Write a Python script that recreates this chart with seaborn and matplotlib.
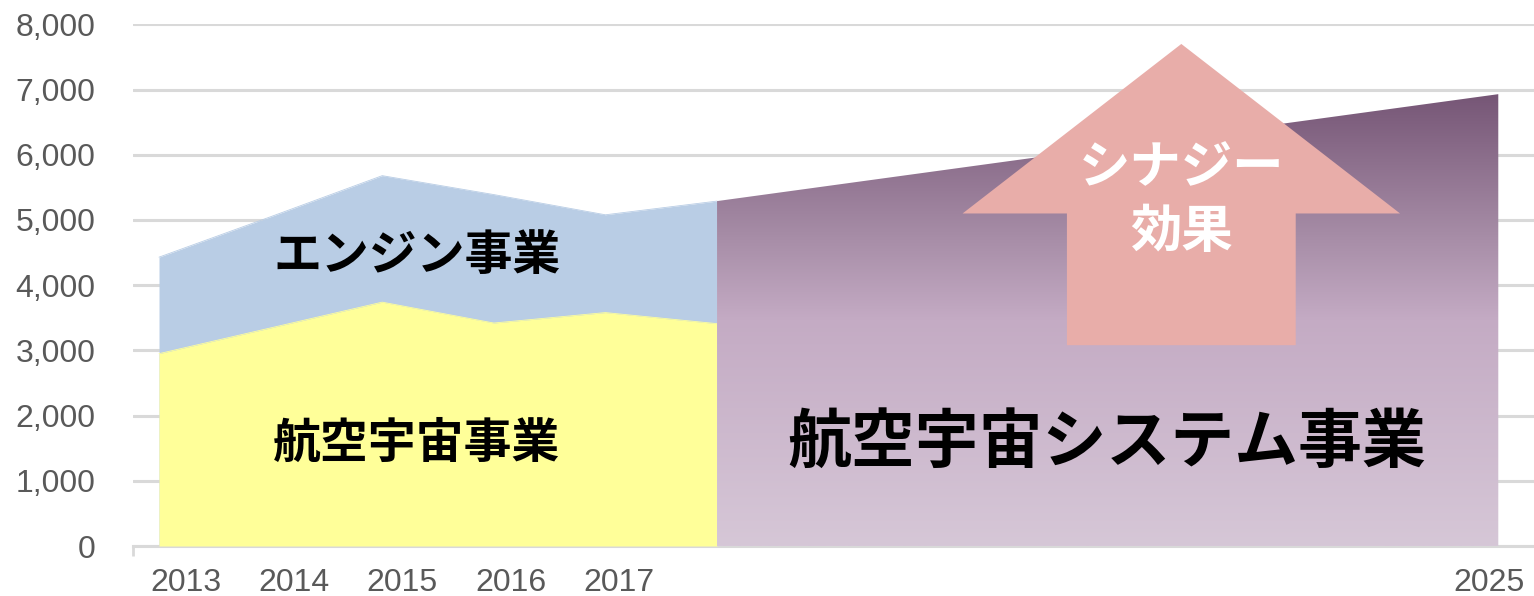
import numpy as np
import matplotlib
matplotlib.use("Agg")
import matplotlib.pyplot as plt
import matplotlib.patches as mpatches
from matplotlib.colors import LinearSegmentedColormap
import seaborn as sns

# -----------------------------
# datos
# -----------------------------
years_hist = [2013, 2014, 2015, 2016, 2017, 2018]
aero_space = [2950, 3345, 3740, 3420, 3580, 3410]      # 航空宇宙事業
engine = [1480, 1705, 1940, 1970, 1500, 1880]          # エンジン事業 (apilado)
years_future = [2018, 2025]
aero_system = [5290, 6930]                             # 航空宇宙システム事業

tick_labels = ["2013", "2014", "2015", "2016", "2017", "2025"]
y_ticks = [0, 1000, 2000, 3000, 4000, 5000, 6000, 7000, 8000]

# posiciones de etiquetas (layout)
tick_pos = [2013.24, 2014.21, 2015.18, 2016.15, 2017.12, 2024.92]

sns.set_theme(style="white")
plt.rcParams['font.family'] = ['Liberation Sans', 'Noto Sans CJK JP', 'DejaVu Sans']

fig = plt.figure(figsize=(15.34, 5.96), dpi=100)
ax = fig.add_axes([133/1534, 50/596, 1401/1534, 521.6/596])

df_top = np.array(aero_space) + np.array(engine)

# areas historicas
ax.fill_between(years_hist, 0, df_top, color="#B9CDE5", lw=0, zorder=2)
ax.fill_between(years_hist, 0, aero_space, color="#FFFF99", lw=0, zorder=3)
sns.lineplot(x=years_hist, y=df_top, color="#B9CDE5", lw=0.6, ax=ax, zorder=2)
sns.lineplot(x=years_hist, y=aero_space, color="#FFFF99", lw=0.6, ax=ax, zorder=3)

# area futura con degradado
poly = ax.fill_between(years_future, 0, aero_system, facecolor="none", lw=0, zorder=3)
cmap = LinearSegmentedColormap.from_list(
    "grad", [(0.0, "#D6C7D7"), (0.5, "#C4ABC4"), (0.69, "#A68CA6"), (1.0, "#765676")])
grad = np.linspace(0, 1, 256).reshape(-1, 1)
img = ax.imshow(grad, cmap=cmap, origin="lower", aspect="auto",
                extent=[years_future[0], years_future[1], 0, max(aero_system)], zorder=3)
img.set_clip_path(poly.get_paths()[0], transform=ax.transData)

# flecha sinergia
arrow = mpatches.FancyArrow(2022.16, 3080, 0, 4620, width=2.05, head_width=3.92,
                            head_length=2600, length_includes_head=True,
                            color="#E8ADA9", lw=0, zorder=4)
ax.add_patch(arrow)
ax.text(2022.16, 5800, "シナジー", ha="center", va="center", color="white",
        fontsize=37, fontweight="bold", family=['Noto Sans CJK JP'], zorder=5)
ax.text(2022.16, 4830, "効果", ha="center", va="center", color="white",
        fontsize=37, fontweight="bold", family=['Noto Sans CJK JP'], zorder=5)

# etiquetas de areas
ax.text(2015.31, 4460, "エンジン事業", ha="center", va="center", color="black",
        fontsize=34.5, fontweight="bold", family=['Noto Sans CJK JP'], zorder=5)
ax.text(2015.31, 1580, "航空宇宙事業", ha="center", va="center", color="black",
        fontsize=34.5, fontweight="bold", family=['Noto Sans CJK JP'], zorder=5)
ax.text(2021.49, 1580, "航空宇宙システム事業", ha="center", va="center", color="black",
        fontsize=46, fontweight="bold", family=['Noto Sans CJK JP'], zorder=5)

# ejes
ax.set_xlim(2012.767, 2025.32)
ax.set_ylim(0, 8000)
ax.set_yticks(y_ticks)
ax.set_yticklabels([f"{v:,}" for v in y_ticks])
ax.set_xticks(tick_pos)
ax.set_xticklabels(tick_labels)
ax.set_xticks([2012.767], minor=True)
ax.tick_params(axis="y", length=0, pad=27, labelsize=23, labelcolor="#595959")
ax.tick_params(axis="x", which="major", length=0, pad=16, labelsize=23, labelcolor="#595959")
ax.tick_params(axis="x", which="minor", length=7, width=2, color="#D9D9D9", bottom=True)
ax.yaxis.grid(True, color="#D9D9D9", lw=2.2, zorder=1)
ax.xaxis.grid(False)
ax.set_axisbelow(True)
for s in ["top", "right", "left"]:
    ax.spines[s].set_visible(False)
ax.spines["bottom"].set_color("#D9D9D9")
ax.spines["bottom"].set_linewidth(2.2)
ax.set_xlabel("")
ax.set_ylabel("")

fig.savefig("out.png", dpi=100)
